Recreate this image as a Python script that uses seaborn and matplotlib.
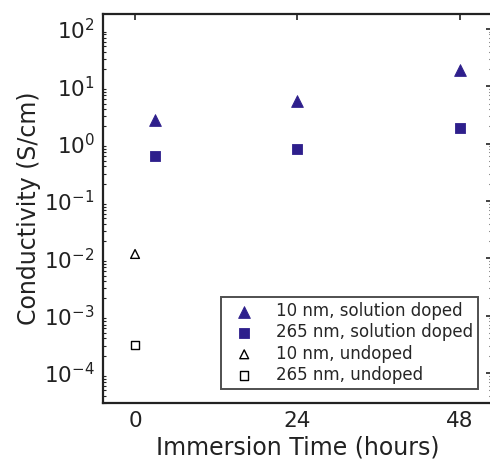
import numpy as np
import pandas as pd
import matplotlib
matplotlib.use('Agg')
import matplotlib.pyplot as plt
import seaborn as sns
from matplotlib.ticker import LogLocator, NullFormatter

# dados
horas_dopado = [3, 24, 48]
cond_10nm_dopado = [2.6, 5.5, 18.9]
cond_265nm_dopado = [0.61, 0.81, 1.85]
horas_nao_dopado = [0]
cond_10nm_nao_dopado = [0.0119]
cond_265nm_nao_dopado = [3.1e-4]
rotulos = ['10 nm, solution doped', '265 nm, solution doped',
           '10 nm, undoped', '265 nm, undoped']

azul = '#2e1f8c'

sns.set_style('white')
plt.rcParams['font.family'] = ['DejaVu Sans']

fig = plt.figure(figsize=(4.9, 4.66), dpi=100)
ax = fig.add_axes([103/490, 1 - 403/466, (492 - 103)/490, (403 - 14)/466])

sns.scatterplot(x=horas_dopado, y=cond_10nm_dopado, marker='^', s=72,
                color=azul, edgecolor=azul, linewidth=0.6, ax=ax, label=rotulos[0])
sns.scatterplot(x=horas_dopado, y=cond_265nm_dopado, marker='s', s=44,
                color=azul, edgecolor=azul, linewidth=0.6, ax=ax, label=rotulos[1])
sns.scatterplot(x=horas_nao_dopado, y=cond_10nm_nao_dopado, marker='^', s=40,
                facecolor='none', edgecolor='black', linewidth=1.0, ax=ax, label=rotulos[2])
sns.scatterplot(x=horas_nao_dopado, y=cond_265nm_nao_dopado, marker='s', s=36,
                facecolor='none', edgecolor='black', linewidth=1.0, ax=ax, label=rotulos[3])

ax.set_yscale('log')
ax.set_ylim(3e-5, 182)
ax.set_xlim(-4.74, 52.8)
ax.set_xticks([0, 24, 48])
ax.yaxis.set_major_locator(LogLocator(base=10, numticks=10))
ax.yaxis.set_minor_locator(LogLocator(base=10, subs=np.arange(2, 10), numticks=20))
ax.yaxis.set_minor_formatter(NullFormatter())

for s in ax.spines.values():
    s.set_color('#222222')
    s.set_linewidth(1.6)

ax.tick_params(axis='both', which='major', direction='in', length=4, width=1.2,
               top=True, right=True, labelsize=15.5, colors='#222222', pad=6)
ax.tick_params(axis='y', which='minor', direction='in', length=2, width=0.8,
               left=True, right=True, colors='#222222')
ax.tick_params(axis='x', which='minor', bottom=False, top=False)

ax.set_xlabel('Immersion Time (hours)', fontsize=17, color='#222222', labelpad=3)
ax.set_ylabel('Conductivity (S/cm)', fontsize=17, color='#222222', labelpad=2)

leg = ax.legend(loc='lower right', bbox_to_anchor=(0.964, 0.036), fontsize=12,
                frameon=True, fancybox=False, edgecolor='#222222',
                handletextpad=0.8, borderpad=0.3, labelspacing=0.2,
                handlelength=2.2, borderaxespad=0)
leg.get_frame().set_linewidth(1.4)

fig.savefig('out.png', dpi=100)
